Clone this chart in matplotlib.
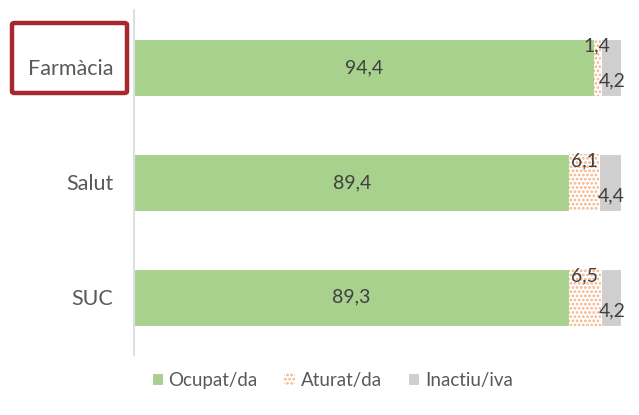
import numpy as np
import matplotlib.pyplot as plt
from matplotlib.patches import FancyBboxPatch

plt.rcParams['font.family'] = ['Lato', 'DejaVu Sans']
plt.rcParams['hatch.linewidth'] = 1.3

categories = ['Farmàcia', 'Salut', 'SUC']
ocupat = [94.4, 89.4, 89.3]
aturat = [1.4, 6.1, 6.5]
inactiu = [4.2, 4.4, 4.2]
series_names = ['Ocupat/da', 'Aturat/da', 'Inactiu/iva']

green = '#A9D18E'
orange = '#F4B183'
grey = '#D0CECE'
txt = '#404040'

fig = plt.figure(figsize=(6.39, 4.15), dpi=100)
ax = fig.add_axes([0.21, 0.145, 0.762, 0.831])

y = np.arange(len(categories))
h = 0.5
ocupat = np.array(ocupat)
aturat = np.array(aturat)
inactiu = np.array(inactiu)

b1 = ax.barh(y, ocupat, h, color=green, edgecolor='white', linewidth=0.8, label=series_names[0])
b2 = ax.barh(y, aturat, h, left=ocupat, color='white', edgecolor=orange, hatch='....',
             linewidth=0, label=series_names[1])
b3 = ax.barh(y, inactiu, h, left=ocupat + aturat, color=grey, edgecolor='white',
             linewidth=0.8, label=series_names[2])

fmt = lambda v: f'{v:.1f}'.replace('.', ',')
for i in range(len(categories)):
    ax.text(ocupat[i] / 2, y[i], fmt(ocupat[i]), ha='center', va='center', color=txt, fontsize=14)
    ax.text(ocupat[i] + aturat[i] / 2, y[i] - 0.19, fmt(aturat[i]), ha='center', va='center',
            color=txt, fontsize=14)
    ax.text(ocupat[i] + aturat[i] + inactiu[i] / 2 + 0.3, y[i] + 0.12, fmt(inactiu[i]),
            ha='center', va='center', color=txt, fontsize=14)

ax.set_xlim(0, 100)
ax.set_ylim(2.5, -0.5)
ax.set_yticks(y)
ax.set_yticklabels(categories, fontsize=15.5, color='#595959')
ax.tick_params(axis='y', length=0, pad=15)
ax.set_xticks([])
for s in ['top', 'right', 'bottom']:
    ax.spines[s].set_visible(False)
ax.spines['left'].set_color('#D9D9D9')
ax.spines['left'].set_linewidth(1.2)

fig.legend(handles=[b1, b2, b3], loc='center', bbox_to_anchor=(0.52, 0.083), ncol=3,
           frameon=False, fontsize=13.5, handlelength=0.6, handleheight=0.6,
           handletextpad=0.3, columnspacing=1.4, labelcolor='#595959')

box = FancyBboxPatch((12 / 639, 1 - 93 / 415), 115 / 639, 70 / 415,
                     boxstyle='round,pad=0,rounding_size=0.004', transform=fig.transFigure,
                     fill=False, edgecolor='#A5282F', linewidth=3.2)
fig.patches.append(box)

fig.savefig('out.png', dpi=100)
